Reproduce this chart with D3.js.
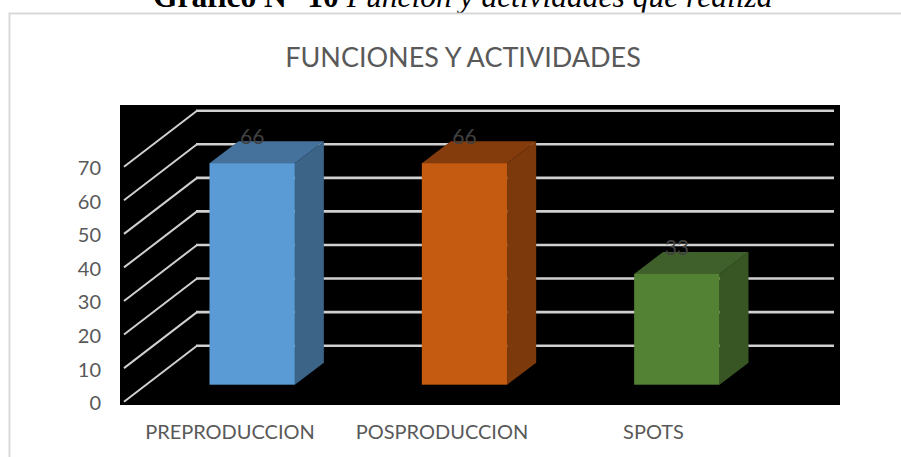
<!DOCTYPE html>
<html><head><meta charset="utf-8">
<script src="https://cdn.jsdelivr.net/npm/d3@7"></script>
<style>
html,body{margin:0;padding:0;background:#fff;overflow:hidden}
svg{display:block}
</style></head><body>
<div id="chart"></div>
<script>
const categories = ["PREPRODUCCION","POSPRODUCCION","SPOTS"];
const values = [66,66,33];
const yTicks = [0,10,20,30,40,50,60,70];
const faceColors = ["#5b9bd5","#c55a11","#548235"];
const topColors = ["#44729d","#843c0c","#3f602a"];
const sideColors = ["#3b6487","#7c390c","#375623"];
const chartTitle = "FUNCIONES Y ACTIVIDADES";
const captionBold = "Gráfico N° 10";
const captionItalic = " Función y actividades que realiza";

const W=901,H=457;
const svg=d3.select("#chart").append("svg").attr("width",W).attr("height",H);
const sans="Lato, 'Open Sans', sans-serif";

// caption (cropped by top of the image, as in the reference)
const cap=svg.append("text").attr("x",153).attr("y",7).attr("font-family","'Liberation Serif', serif").attr("font-size",31.5).attr("fill","#000");
cap.append("tspan").attr("font-weight","bold").text(captionBold);
cap.append("tspan").attr("font-style","italic").text(captionItalic);

// chart frame
svg.append("path").attr("d",`M9.5,${H} V13.5 H${W}`).attr("fill","none").attr("stroke","#d9d9d9").attr("stroke-width",2);

svg.append("text").attr("x",463).attr("y",67).attr("text-anchor","middle").attr("font-family",sans).attr("font-size",27).attr("fill","#595959").text(chartTitle);

// plot background
const plot={x0:120,x1:840,y0:105,y1:405};
svg.append("rect").attr("x",plot.x0).attr("y",plot.y0).attr("width",plot.x1-plot.x0).attr("height",plot.y1-plot.y0).attr("fill","#000");

// scales: y on the front edge of the floor; depth vector is the 3D shear
const y=d3.scaleLinear().domain([0,70]).range([401.7,166.7]);
const wallDepth={dx:73,dy:-56};
const barInset={dx:22,dy:-17};
const barDepth={dx:29,dy:-22};
const frontX0=124, frontX1=761;
const x=d3.scaleBand().domain(categories).range([frontX0+barInset.dx,frontX1+barInset.dx]).paddingInner(0.598).paddingOuter(0.299);

// gridlines
const grid=svg.append("g").attr("fill","none").attr("stroke","#d0d0d0");
yTicks.forEach(t=>{
  const bx=frontX0+wallDepth.dx, by=y(t)+wallDepth.dy;
  grid.append("line").attr("x1",frontX0).attr("y1",y(t)).attr("x2",bx).attr("y2",by).attr("stroke-width",2);
  grid.append("line").attr("x1",bx-1).attr("y1",by).attr("x2",frontX1+wallDepth.dx).attr("y2",by).attr("stroke-width",2.6);
});

// bars
const bars=svg.append("g");
categories.forEach((c,i)=>{
  const l=x(c), r=l+x.bandwidth();
  const b=y(0)+barInset.dy, t=y(values[i])+barInset.dy;
  const dx=barDepth.dx, dy=barDepth.dy;
  bars.append("path").attr("fill",sideColors[i]).attr("d",`M${r},${b}L${r+dx},${b+dy}L${r+dx},${t+dy}L${r},${t}Z`);
  bars.append("path").attr("fill",topColors[i]).attr("d",`M${l},${t}L${l+dx},${t+dy}L${r+dx},${t+dy}L${r},${t}Z`);
  bars.append("rect").attr("x",l).attr("y",t).attr("width",x.bandwidth()).attr("height",b-t).attr("fill",faceColors[i]);
  svg.append("text").attr("x",(l+r)/2).attr("y",t-19).attr("text-anchor","middle").attr("font-family",sans).attr("font-size",21).attr("fill","#404040").text(values[i]);
});

// y axis
const yAxis=svg.append("g").attr("transform","translate(101,1.5)").call(d3.axisLeft(y).tickValues(yTicks).tickSize(0).tickPadding(0));
yAxis.select(".domain").remove();
yAxis.selectAll("text").attr("font-family",sans).attr("font-size",20).attr("fill","#595959");

// x labels
const labelX=[230,442,653.5];
categories.forEach((c,i)=>{
  svg.append("text").attr("x",labelX[i]).attr("y",439).attr("text-anchor","middle").attr("font-family",sans).attr("font-size",20).attr("fill","#595959").text(c);
});
</script>
</body></html>
